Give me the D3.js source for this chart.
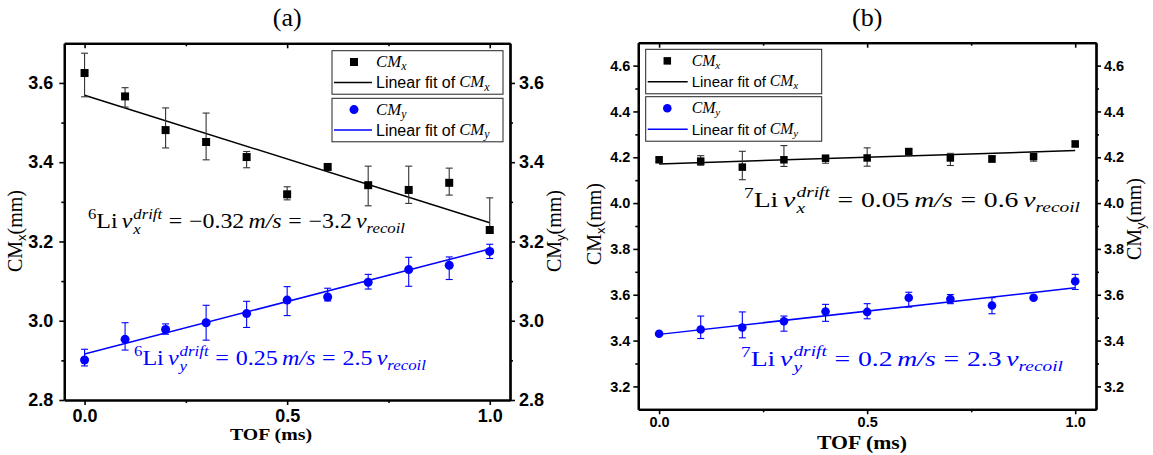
<!DOCTYPE html>
<html><head><meta charset="utf-8">
<script src="https://cdn.jsdelivr.net/npm/d3@7"></script>
<style>
body{margin:0;background:#fff;}
svg{display:block;}
</style></head>
<body>
<svg id="chart" width="1153" height="455"></svg>
<script>
// ---------- data ----------
const tof = [0, 0.1, 0.2, 0.3, 0.4, 0.5, 0.6, 0.7, 0.8, 0.9, 1.0];

// panel (a) 6Li
const cmxA      = [3.625, 3.566, 3.481, 3.451, 3.413, 3.319, 3.388, 3.342, 3.330, 3.348, 3.229];
const cmxAUp    = [0.050, 0.022, 0.056, 0.073, 0.014, 0.019, 0.006, 0.048, 0.060, 0.037, 0.081];
const cmxADown  = [0.060, 0.027, 0.045, 0.045, 0.027, 0.014, 0.006, 0.052, 0.034, 0.031, 0.008];
const cmyA      = [2.901, 2.953, 2.978, 2.995, 3.018, 3.052, 3.060, 3.097, 3.129, 3.140, 3.175];
const cmyAUp    = [0.027, 0.042, 0.014, 0.044, 0.031, 0.034, 0.022, 0.020, 0.031, 0.021, 0.018];
const cmyADown  = [0.015, 0.027, 0.012, 0.044, 0.035, 0.039, 0.010, 0.017, 0.042, 0.036, 0.018];
const fitXA = [3.569, 3.247];   // linear fit values at TOF 0 and 1
const fitYA = [2.916, 3.181];

// panel (b) 7Li
const cmxB      = [4.189, 4.183, 4.157, 4.189, 4.196, 4.197, 4.225, 4.197, 4.193, 4.203, 4.258];
const cmxBUp    = [0.008, 0.024, 0.069, 0.062, 0.011, 0.044, 0.010, 0.020, 0.012, 0.012, 0.012];
const cmxBDown  = [0.008, 0.018, 0.055, 0.029, 0.022, 0.036, 0.010, 0.033, 0.015, 0.020, 0.012];
const cmyB      = [3.430, 3.448, 3.457, 3.484, 3.527, 3.525, 3.587, 3.581, 3.553, 3.587, 3.659];
const cmyBUp    = [0.005, 0.059, 0.068, 0.023, 0.031, 0.036, 0.024, 0.020, 0.034, 0.005, 0.030];
const cmyBDown  = [0.005, 0.039, 0.045, 0.043, 0.043, 0.030, 0.041, 0.020, 0.036, 0.005, 0.036];
const fitXB = [4.171, 4.229];
const fitYB = [3.427, 3.630];

// ticks
const xTicks = [0, 0.5, 1.0];
const xMinor = [0.25, 0.75];
const yTicksA = [2.8, 3.0, 3.2, 3.4, 3.6];
const yMinorA = [2.9, 3.1, 3.3, 3.5];
const yTicksB = [3.2, 3.4, 3.6, 3.8, 4.0, 4.2, 4.4, 4.6];
const yMinorB = [3.3, 3.5, 3.7, 3.9, 4.1, 4.3, 4.5];

// ---------- drawing ----------
const svg = d3.select("#chart");
const SERIF = "'Liberation Serif', 'DejaVu Serif', serif";
const SANS = "'Liberation Sans', Arial, sans-serif";
const BLUE = "#0000ff";

function mathText(parent, x, y, size, color, segs, targetW) {
  const outer = parent.append("g");
  const g = outer.append("g").attr("fill", color);
  let cx = x;
  function add(p, px) {
    const fs = size * (p.scale || 1);
    const t = g.append("text")
      .attr("x", px).attr("y", y + size * (p.shift || 0))
      .attr("font-family", p.sans ? SANS : SERIF)
      .attr("font-size", fs)
      .attr("font-style", p.it ? "italic" : "normal")
      .text(p.t);
    return t.node().getComputedTextLength();
  }
  segs.forEach(s => {
    if (s.gap !== undefined) { cx += s.gap * size; return; }
    if (s.stack) {
      let w = 0;
      s.stack.forEach(p => { w = Math.max(w, add(p, cx)); });
      cx += w; return;
    }
    cx += add(s, cx);
  });
  if (targetW) {
    const k = targetW / (cx - x);
    g.attr("transform", `translate(${x},0) scale(${k},1) translate(${-x},0)`);
  }
  return cx;
}

function driftSegs(iso, comp, v1, v2) {
  return [
    {t: iso, scale: 0.7, shift: -0.42}, {t: "Li"}, {gap: 0.17},
    {t: "v", it: 1}, {gap: 0.04},
    {stack: [{t: "drift", it: 1, scale: 0.7, shift: -0.45}, {t: comp, it: 1, scale: 0.7, shift: 0.28}]},
    {gap: 0.28}, {t: "="}, {gap: 0.28}, {t: v1}, {gap: 0.17},
    {t: "m/s", it: 1}, {gap: 0.28}, {t: "="}, {gap: 0.28}, {t: v2}, {gap: 0.17},
    {t: "v", it: 1}, {t: "recoil", it: 1, scale: 0.7, shift: 0.22}
  ];
}

function drawPanel(c) {
  const g = svg.append("g");
  const x = d3.scaleLinear().domain([-0.05, 1.05]).range([c.L, c.R]);
  const y = d3.scaleLinear().domain(c.yDomain).range([c.B, c.T]);
  const fmt = d3.format(".1f");

  function styleAxis(sel, fs) {
    sel.select(".domain").attr("stroke", "#000").attr("stroke-width", 2.2);
    sel.selectAll(".tick line").attr("stroke", "#000").attr("stroke-width", 1.6);
    sel.selectAll(".tick text").attr("font-family", SANS).attr("font-weight", "bold")
      .attr("font-size", fs).attr("fill", "#000");
  }
  // bottom
  g.append("g").attr("transform", `translate(0,${c.B})`)
    .call(d3.axisBottom(x).tickValues(xTicks).tickFormat(fmt).tickSize(5).tickSizeOuter(0).tickPadding(c.xPad))
    .call(s => styleAxis(s, c.tickFs));
  g.append("g").attr("transform", `translate(0,${c.B})`)
    .call(d3.axisBottom(x).tickValues(xMinor).tickFormat("").tickSize(3).tickSizeOuter(0))
    .call(s => styleAxis(s, c.tickFs));
  // top (inward)
  g.append("g").attr("transform", `translate(0,${c.T})`)
    .call(d3.axisTop(x).tickValues(xTicks).tickFormat("").tickSize(-5).tickSizeOuter(0))
    .call(s => styleAxis(s, c.tickFs));
  g.append("g").attr("transform", `translate(0,${c.T})`)
    .call(d3.axisTop(x).tickValues(xMinor).tickFormat("").tickSize(-3).tickSizeOuter(0))
    .call(s => styleAxis(s, c.tickFs));
  // left
  g.append("g").attr("transform", `translate(${c.L},0)`)
    .call(d3.axisLeft(y).tickValues(c.yTicks).tickFormat(fmt).tickSize(5).tickSizeOuter(0).tickPadding(c.yPadL))
    .call(s => styleAxis(s, c.tickFs));
  g.append("g").attr("transform", `translate(${c.L},0)`)
    .call(d3.axisLeft(y).tickValues(c.yMinor).tickFormat("").tickSize(3).tickSizeOuter(0))
    .call(s => styleAxis(s, c.tickFs));
  // right
  g.append("g").attr("transform", `translate(${c.R},0)`)
    .call(d3.axisRight(y).tickValues(c.yTicks).tickFormat(fmt).tickSize(5).tickSizeOuter(0).tickPadding(c.yPadR))
    .call(s => styleAxis(s, c.tickFs));
  g.append("g").attr("transform", `translate(${c.R},0)`)
    .call(d3.axisRight(y).tickValues(c.yMinor).tickFormat("").tickSize(3).tickSizeOuter(0))
    .call(s => styleAxis(s, c.tickFs));

  // fit lines
  const line = d3.line().x(d => x(d[0])).y(d => y(d[1]));
  g.append("path").datum([[0, c.fitX[0]], [1, c.fitX[1]]]).attr("d", line)
    .attr("stroke", "#000").attr("stroke-width", 1.5).attr("fill", "none");
  g.append("path").datum([[0, c.fitY[0]], [1, c.fitY[1]]]).attr("d", line)
    .attr("stroke", BLUE).attr("stroke-width", 1.5).attr("fill", "none");

  function errBars(vals, up, dn, color) {
    const eg = g.append("g").attr("stroke", color).attr("stroke-width", 1.1);
    tof.forEach((t, i) => {
      const px = x(t), yt = y(vals[i] + up[i]), yb = y(vals[i] - dn[i]);
      eg.append("line").attr("x1", px).attr("x2", px).attr("y1", yt).attr("y2", yb);
      eg.append("line").attr("x1", px - c.cap).attr("x2", px + c.cap).attr("y1", yt).attr("y2", yt);
      eg.append("line").attr("x1", px - c.cap).attr("x2", px + c.cap).attr("y1", yb).attr("y2", yb);
    });
  }
  errBars(c.cmx, c.cmxUp, c.cmxDn, "#333");
  errBars(c.cmy, c.cmyUp, c.cmyDn, BLUE);

  g.selectAll(".sq").data(tof).join("rect")
    .attr("x", (d) => x(d) - c.sq / 2).attr("y", (d, i) => y(c.cmx[i]) - c.sq / 2)
    .attr("width", c.sq).attr("height", c.sq).attr("fill", "#000");
  g.selectAll(".ci").data(tof).join("circle")
    .attr("cx", d => x(d)).attr("cy", (d, i) => y(c.cmy[i])).attr("r", c.r).attr("fill", BLUE);

  // legend
  const lg = g.append("g");
  [[c.leg.y1, "#000", "x", true], [c.leg.y2, BLUE, "y", false]].forEach(([ly, col, sub, isSq]) => {
    lg.append("rect").attr("x", c.leg.x).attr("y", ly).attr("width", c.leg.w).attr("height", c.leg.h)
      .attr("fill", "#fff").attr("stroke", "#222").attr("stroke-width", 1);
    const mx = c.leg.x + c.leg.mk, my = ly + c.leg.h * 0.26;
    if (isSq) lg.append("rect").attr("x", mx - c.sq / 2).attr("y", my - c.sq / 2).attr("width", c.sq).attr("height", c.sq).attr("fill", "#000");
    else lg.append("circle").attr("cx", mx).attr("cy", my).attr("r", c.r).attr("fill", BLUE);
    const ly2 = ly + c.leg.h * 0.73;
    lg.append("line").attr("x1", c.leg.x + 2).attr("x2", c.leg.x + c.leg.ln).attr("y1", ly2).attr("y2", ly2)
      .attr("stroke", col).attr("stroke-width", 1.5);
    const tx = c.leg.x + c.leg.ln + 4, fs = c.leg.fs;
    mathText(lg, tx, my + fs * 0.32, fs * 1.05, "#000", [{t: "CM", it: 1}, {t: sub, it: 1, scale: 0.7, shift: 0.2}]);
    lg.append("text").attr("x", tx).attr("y", ly2 + fs * 0.36).attr("font-family", SANS).attr("font-size", fs)
      .attr("id", "lf").text("Linear fit of");
    const w = lg.select("#lf").node().getComputedTextLength();
    lg.select("#lf").attr("id", null);
    mathText(lg, tx + w + fs * 0.25, ly2 + fs * 0.3, fs * 1.05, "#000", [{t: "CM", it: 1}, {t: sub, it: 1, scale: 0.7, shift: 0.2}]);
  });

  // annotations
  mathText(g, c.annX.x, c.annX.y, c.annFs, "#000", driftSegs(c.iso, "x", c.annX.v1, c.annX.v2), c.annX.w);
  mathText(g, c.annY.x, c.annY.y, c.annFs, BLUE, driftSegs(c.iso, "y", c.annY.v1, c.annY.v2), c.annY.w);

  // title
  g.append("text").attr("x", (c.L + c.R) / 2).attr("y", 26).attr("text-anchor", "middle")
    .attr("font-family", SERIF).attr("font-size", 26).text(c.title);
  // x label
  g.append("text").attr("x", c.xl[0] - c.xl[2] / 2).attr("y", c.xl[1])
    .attr("textLength", c.xl[2]).attr("lengthAdjust", "spacingAndGlyphs")
    .attr("font-family", SERIF).attr("font-weight", "bold").attr("font-size", c.xl[3]).text("TOF (ms)");
  // y labels
  function ylab(px, py, sub) {
    const t = g.append("text").attr("transform", `translate(${px},${py}) rotate(-90)`)
      .attr("text-anchor", "middle").attr("font-family", SERIF).attr("font-size", 20);
    t.append("tspan").text("CM");
    t.append("tspan").attr("font-family", SANS).attr("font-size", 13).attr("dy", 4).text(sub);
    t.append("tspan").attr("dy", -4).text("(mm)");
  }
  ylab(c.ylL[0], c.ylL[1], "x");
  ylab(c.ylR[0], c.ylR[1], "y");
}

drawPanel({
  L: 64.3, R: 510, T: 43.3, B: 400, yDomain: [2.8, 3.7],
  yTicks: yTicksA, yMinor: yMinorA, tickFs: 18, xPad: 4, yPadL: 6, yPadR: 4,
  cmx: cmxA, cmxUp: cmxAUp, cmxDn: cmxADown, cmy: cmyA, cmyUp: cmyAUp, cmyDn: cmyADown,
  fitX: fitXA, fitY: fitYA, sq: 8, r: 4.5, cap: 3.5,
  leg: {x: 332, y1: 50.7, y2: 98.3, w: 171, h: 43.5, mk: 22, ln: 40, fs: 16},
  iso: "6", annFs: 21,
  annX: {x: 88, y: 228, v1: "−0.32", v2: "−3.2", w: 317},
  annY: {x: 134, y: 365, v1: "0.25", v2: "2.5", w: 292},
  title: "(a)", xl: [271, 440, 82, 17], ylL: [22, 231], ylR: [561, 231]
});

drawPanel({
  L: 638.3, R: 1096, T: 42.7, B: 409.3, yDomain: [3.1, 4.7],
  yTicks: yTicksB, yMinor: yMinorB, tickFs: 14.5, xPad: 2, yPadL: 3, yPadR: 3,
  cmx: cmxB, cmxUp: cmxBUp, cmxDn: cmxBDown, cmy: cmyB, cmyUp: cmyBUp, cmyDn: cmyBDown,
  fitX: fitXB, fitY: fitYB, sq: 7.5, r: 4.3, cap: 3.5,
  leg: {x: 645.7, y1: 49.3, y2: 96.7, w: 176, h: 44.5, mk: 21.6, ln: 42, fs: 15},
  iso: "7", annFs: 22,
  annX: {x: 744, y: 207, v1: "0.05", v2: "0.6", w: 336},
  annY: {x: 741, y: 366, v1: "0.2", v2: "2.3", w: 322},
  title: "(b)", xl: [862, 449, 90, 18], ylL: [601, 224], ylR: [1141, 219]
});
</script>
</body></html>
